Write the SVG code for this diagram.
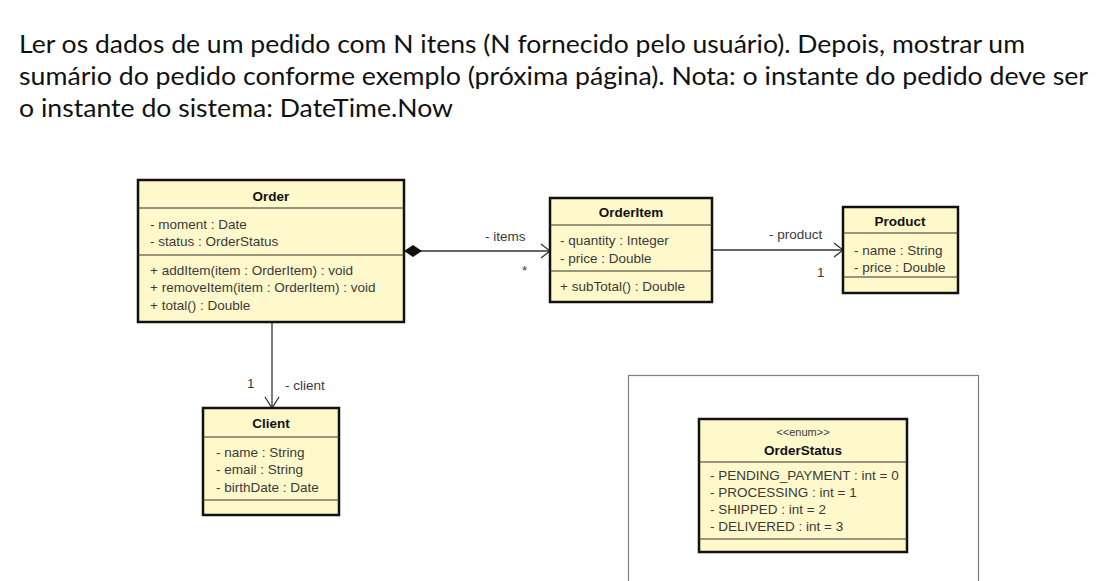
<svg xmlns="http://www.w3.org/2000/svg" width="1109" height="581" viewBox="0 0 1109 581">
<style>
.hdr{font-family:Lato,"Open Sans","Noto Sans",sans-serif;font-size:25.5px;fill:#111}
.box{fill:#fef8cb;stroke:#111;stroke-width:2.5}
.sep{stroke:#333;stroke-width:1}
.t{font-family:"Liberation Sans",Arial,sans-serif;font-size:13.5px;fill:#3a3a3a}
.b{font-family:"Liberation Sans",Arial,sans-serif;font-size:13.5px;font-weight:bold;fill:#111;text-anchor:middle}
.s{font-family:"Liberation Sans",Arial,sans-serif;font-size:11px;fill:#3a3a3a;text-anchor:middle}
.ln{stroke:#333;stroke-width:1.3;fill:none}
</style>
<rect width="1109" height="581" fill="#fff"/>
<g id="header">
<text class="hdr" x="19" y="53" textLength="1006" lengthAdjust="spacingAndGlyphs">Ler os dados de um pedido com N itens (N fornecido pelo usuário). Depois, mostrar um</text>
<text class="hdr" x="19" y="85" textLength="1069" lengthAdjust="spacingAndGlyphs">sumário do pedido conforme exemplo (próxima página). Nota: o instante do pedido deve ser</text>
<text class="hdr" x="19" y="117" textLength="434" lengthAdjust="spacingAndGlyphs">o instante do sistema: DateTime.Now</text>
</g>
<rect id="frame" x="628.5" y="375.5" width="350" height="220" fill="none" stroke="#808080" stroke-width="1.2"/>
<g id="connectors">
<line class="ln" x1="418" y1="251" x2="550" y2="251"/>
<polygon points="404,251 413,245 422,251 413,257" fill="#111"/>
<polyline class="ln" points="541,244 550,251 541,258"/>
<text class="t" x="485" y="241">- items</text>
<text class="t" x="522" y="275">*</text>
<line class="ln" x1="712" y1="250" x2="843" y2="250"/>
<polyline class="ln" points="834,243 843,250 834,257"/>
<text class="t" x="769" y="239">- product</text>
<text class="t" x="817" y="277">1</text>
<line class="ln" x1="272" y1="322" x2="272" y2="408"/>
<polyline class="ln" points="265,397 272,408 279,397"/>
<text class="t" x="247" y="388">1</text>
<text class="t" x="285" y="390">- client</text>
</g>
<g id="Order">
<rect class="box" x="138" y="180" width="266" height="142"/>
<line class="sep" x1="138" y1="208" x2="404" y2="208"/>
<line class="sep" x1="138" y1="255" x2="404" y2="255"/>
<text class="b" x="271" y="201">Order</text>
<text class="t" x="150" y="229">- moment : Date</text>
<text class="t" x="150" y="246">- status : OrderStatus</text>
<text class="t" x="150" y="275">+ addItem(item : OrderItem) : void</text>
<text class="t" x="150" y="292">+ removeItem(item : OrderItem) : void</text>
<text class="t" x="150" y="310">+ total() : Double</text>
</g>
<g id="OrderItem">
<rect class="box" x="550" y="198" width="162" height="104"/>
<line class="sep" x1="550" y1="225" x2="712" y2="225"/>
<line class="sep" x1="550" y1="271" x2="712" y2="271"/>
<text class="b" x="631" y="217">OrderItem</text>
<text class="t" x="560" y="245">- quantity : Integer</text>
<text class="t" x="560" y="263">- price : Double</text>
<text class="t" x="560" y="291">+ subTotal() : Double</text>
</g>
<g id="Product">
<rect class="box" x="843" y="207" width="115" height="86"/>
<line class="sep" x1="843" y1="233" x2="958" y2="233"/>
<line class="sep" x1="843" y1="277" x2="958" y2="277"/>
<text class="b" x="900" y="226">Product</text>
<text class="t" x="854" y="255">- name : String</text>
<text class="t" x="854" y="272">- price : Double</text>
</g>
<g id="Client">
<rect class="box" x="203" y="408" width="136" height="107"/>
<line class="sep" x1="203" y1="437" x2="339" y2="437"/>
<line class="sep" x1="203" y1="500" x2="339" y2="500"/>
<text class="b" x="271" y="428">Client</text>
<text class="t" x="216" y="457">- name : String</text>
<text class="t" x="216" y="474">- email : String</text>
<text class="t" x="216" y="492">- birthDate : Date</text>
</g>
<g id="OrderStatus">
<rect class="box" x="699" y="419" width="208" height="133"/>
<line class="sep" x1="699" y1="462" x2="907" y2="462"/>
<line class="sep" x1="699" y1="539" x2="907" y2="539"/>
<text class="s" x="803" y="436">&lt;&lt;enum&gt;&gt;</text>
<text class="b" x="803" y="455">OrderStatus</text>
<text class="t" x="710" y="480">- PENDING_PAYMENT : int = 0</text>
<text class="t" x="710" y="497">- PROCESSING : int = 1</text>
<text class="t" x="710" y="514">- SHIPPED : int = 2</text>
<text class="t" x="710" y="531">- DELIVERED : int = 3</text>
</g>
</svg>
